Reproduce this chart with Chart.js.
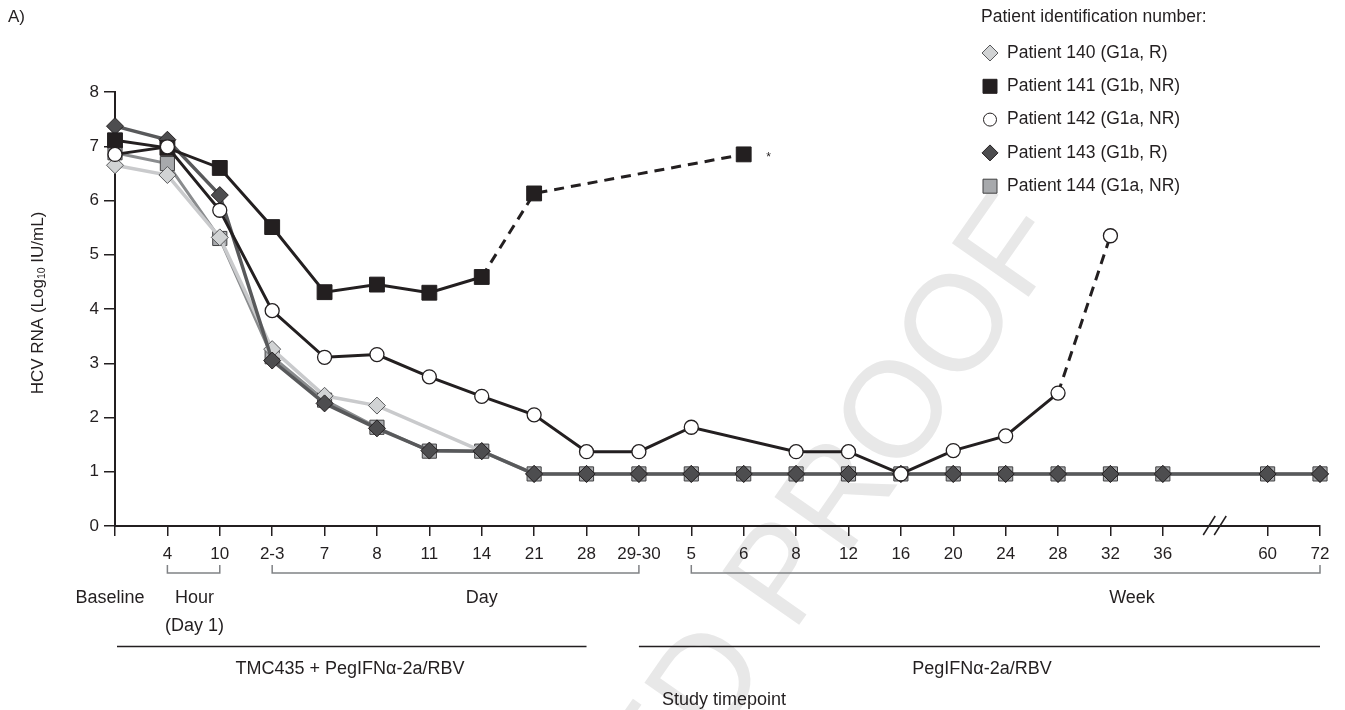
<!DOCTYPE html>
<html>
<head>
<meta charset="utf-8">
<script src="https://cdn.jsdelivr.net/npm/chart.js@4.4.1/dist/chart.umd.min.js"></script>
<style>
  body { margin: 0; background: #fff; }
  #wrap { width: 1345px; height: 710px; }
</style>
</head>
<body>
<div id="wrap"><canvas id="chart" width="1345" height="710"></canvas></div>
<script>
// x categories (index 21 is the axis break, no tick label)
const timepoints = ['', '4', '10', '2-3', '7', '8', '11', '14', '21', '28', '29-30',
                    '5', '6', '8', '12', '16', '20', '24', '28', '32', '36', '', '60', '72'];
const yTicks = [0, 1, 2, 3, 4, 5, 6, 7, 8];

// HCV RNA, log10 IU/mL
const patient140 = [6.65, 6.47, 5.32, 3.26, 2.40, 2.22, null, 1.38, 0.96, 0.96, 0.96,
                    0.96, 0.96, 0.96, 0.96, 0.96, 0.96, 0.96, 0.96, 0.96, 0.96, null, 0.96, 0.96];
const patient141 = [7.11, 6.97, 6.60, 5.51, 4.31, 4.45, 4.30, 4.59, 6.13, null, null,
                    null, 6.85, null, null, null, null, null, null, null, null, null, null, null];
const patient142 = [6.85, 6.99, 5.82, 3.97, 3.11, 3.16, 2.75, 2.39, 2.05, 1.37, 1.37,
                    1.82, null, 1.37, 1.37, 0.96, 1.39, 1.66, 2.45, 5.35, null, null, null, null];
const patient143 = [7.37, 7.12, 6.10, 3.05, 2.26, 1.80, 1.39, 1.38, 0.96, 0.96, 0.96,
                    0.96, 0.96, 0.96, 0.96, 0.96, 0.96, 0.96, 0.96, 0.96, 0.96, null, 0.96, 0.96];
const patient144 = [6.88, 6.68, 5.30, 3.12, 2.32, 1.82, 1.38, 1.38, 0.96, 0.96, 0.96,
                    0.96, 0.96, 0.96, 0.96, 0.96, 0.96, 0.96, 0.96, 0.96, 0.96, null, 0.96, 0.96];

const legendItems = [
  { text: 'Patient 140 (G1a, R)', style: 'rectRot', fill: '#d1d3d4', stroke: '#58595b' },
  { text: 'Patient 141 (G1b, NR)', style: 'rect', fill: '#231f20', stroke: '#231f20' },
  { text: 'Patient 142 (G1a, NR)', style: 'circle', fill: '#ffffff', stroke: '#231f20' },
  { text: 'Patient 143 (G1b, R)', style: 'rectRot', fill: '#4d4d4f', stroke: '#231f20' },
  { text: 'Patient 144 (G1a, NR)', style: 'rect', fill: '#a7a9ac', stroke: '#414042' }
];

const INK = '#231f20';
const FONT = '"Liberation Sans", Arial, Helvetica, sans-serif';

function marker(ctx, style, x, y, fill, stroke) {
  ctx.save();
  ctx.fillStyle = fill;
  ctx.strokeStyle = stroke;
  ctx.lineWidth = 1;
  ctx.beginPath();
  if (style === 'rect') {
    ctx.rect(x - 7, y - 7, 14, 14);
  } else if (style === 'rectRot') {
    ctx.moveTo(x, y - 8); ctx.lineTo(x + 8, y); ctx.lineTo(x, y + 8); ctx.lineTo(x - 8, y); ctx.closePath();
  } else {
    ctx.arc(x, y, 6.5, 0, Math.PI * 2);
  }
  ctx.fill();
  ctx.stroke();
  ctx.restore();
}

const overlay = {
  id: 'overlay',
  beforeDraw(chart) {
    // faint proof watermark behind everything
    const ctx = chart.ctx;
    ctx.save();
    ctx.fillStyle = '#e8e8e8';
    ctx.font = '136px ' + FONT;
    ctx.textAlign = 'right';
    ctx.textBaseline = 'alphabetic';
    ctx.translate(1070, 238);
    ctx.rotate(-55 * Math.PI / 180);
    ctx.fillText('UNCORRECTED PROOF', 0, 0);
    ctx.restore();
  },
  afterDraw(chart) {
    const ctx = chart.ctx;
    const x = chart.scales.x;
    const px = i => x.getPixelForValue(i);
    ctx.save();
    ctx.fillStyle = INK;
    ctx.font = '17px ' + FONT;
    ctx.textBaseline = 'middle';
    ctx.textAlign = 'left';
    ctx.fillText('A)', 8, 17);

    // axis break marks
    ctx.strokeStyle = INK;
    ctx.lineWidth = 1.5;
    const bx = px(21);
    [-6, 5].forEach(d => {
      ctx.beginPath();
      ctx.moveTo(bx + d - 6, 535);
      ctx.lineTo(bx + d + 6, 516);
      ctx.stroke();
    });

    // brackets
    ctx.strokeStyle = '#808285';
    ctx.lineWidth = 1.5;
    const bracket = (a, b) => {
      ctx.beginPath();
      ctx.moveTo(px(a), 565);
      ctx.lineTo(px(a), 573);
      ctx.lineTo(px(b), 573);
      ctx.lineTo(px(b), 565);
      ctx.stroke();
    };
    bracket(1, 2);
    bracket(3, 10);
    bracket(11, 23);

    // treatment phase lines
    ctx.strokeStyle = INK;
    ctx.lineWidth = 1.3;
    ctx.beginPath();
    ctx.moveTo(px(0) + 2, 646.5); ctx.lineTo(px(9), 646.5);
    ctx.moveTo(px(10), 646.5); ctx.lineTo(px(23), 646.5);
    ctx.stroke();

    ctx.font = '18px ' + FONT;
    ctx.textAlign = 'center';
    ctx.fillText('Baseline', 110, 598);
    ctx.fillText('Hour', (px(1) + px(2)) / 2 + 1, 598);
    ctx.fillText('(Day 1)', (px(1) + px(2)) / 2 + 1, 626);
    ctx.fillText('Day', px(7), 598);
    ctx.fillText('Week', 1132, 598);
    ctx.fillText('TMC435 + PegIFN\u03b1-2a/RBV', 350, 669);
    ctx.fillText('PegIFN\u03b1-2a/RBV', 982, 669);
    ctx.fillText('Study timepoint', 724, 700);

    // star next to patient 141 last point
    const y = chart.scales.y;
    ctx.font = '12px ' + FONT;
    ctx.fillText('*', px(12) + 25, y.getPixelForValue(patient141[12]) + 3);

    // y-axis title with subscript
    ctx.save();
    ctx.translate(38, 303);
    ctx.rotate(-Math.PI / 2);
    const big = '17px ' + FONT, small = '10.5px ' + FONT;
    const parts = [['HCV RNA (Log', big, 0], ['10', small, 4], [' IU/mL)', big, 0]];
    let total = 0;
    parts.forEach(p => { ctx.font = p[1]; total += ctx.measureText(p[0]).width; });
    let cx = -total / 2;
    ctx.textAlign = 'left';
    parts.forEach(p => {
      ctx.font = p[1];
      ctx.fillText(p[0], cx, p[2]);
      cx += ctx.measureText(p[0]).width;
    });
    ctx.restore();

    // legend
    ctx.font = '17.5px ' + FONT;
    ctx.textAlign = 'left';
    ctx.fillText('Patient identification number:', 981, 17);
    legendItems.forEach((it, i) => {
      const ly = 53 + i * 33.3;
      marker(ctx, it.style, 990, ly, it.fill, it.stroke);
      ctx.fillStyle = INK;
      ctx.fillText(it.text, 1007, ly);
    });
    ctx.restore();
  }
};

const dash141 = c => c.p0DataIndex >= 7 ? [10, 7] : undefined;
const dash142 = c => c.p0DataIndex >= 18 ? [10, 7] : undefined;

new Chart(document.getElementById('chart').getContext('2d'), {
  type: 'line',
  data: {
    labels: timepoints,
    datasets: [
      { label: 'Patient 142', data: patient142, borderColor: INK, borderWidth: 3,
        pointStyle: 'circle', pointRadius: 7, pointBackgroundColor: '#fff', pointBorderColor: INK,
        pointBorderWidth: 1.3, segment: { borderDash: dash142 } },
      { label: 'Patient 141', data: patient141, borderColor: INK, borderWidth: 3,
        pointStyle: 'rect', pointRadius: 10.5, pointBackgroundColor: INK, pointBorderColor: INK,
        pointBorderWidth: 1, segment: { borderDash: dash141 } },
      { label: 'Patient 143', data: patient143, borderColor: '#58595b', borderWidth: 3.5,
        pointStyle: 'rectRot', pointRadius: 8.5, pointBackgroundColor: '#4d4d4f', pointBorderColor: INK,
        pointBorderWidth: 1 },
      { label: 'Patient 140', data: patient140, borderColor: '#c9cacc', borderWidth: 3.5,
        pointStyle: 'rectRot', pointRadius: 8.5, pointBackgroundColor: '#d1d3d4', pointBorderColor: '#58595b',
        pointBorderWidth: 1 },
      { label: 'Patient 144', data: patient144, borderColor: '#8a8c8e', borderWidth: 3,
        pointStyle: 'rect', pointRadius: 10, pointBackgroundColor: '#a7a9ac', pointBorderColor: '#414042',
        pointBorderWidth: 1 }
    ].map(d => Object.assign(d, { spanGaps: true, tension: 0, clip: false, fill: false }))
  },
  options: {
    responsive: false,
    animation: false,
    layout: { padding: { top: 92, right: 25, left: 0, bottom: 0 } },
    plugins: { legend: { display: false }, tooltip: { enabled: false } },
    scales: {
      x: {
        type: 'category',
        offset: false,
        afterFit: s => { s.height = 184; },
        grid: {
          drawOnChartArea: false, drawTicks: true, tickLength: 10, lineWidth: 1.5,
          color: c => c.index === 21 ? 'rgba(0,0,0,0)' : INK
        },
        border: { color: INK, width: 2 },
        ticks: { autoSkip: false, maxRotation: 0, color: INK, padding: 8, font: { family: FONT, size: 17 } }
      },
      y: {
        min: yTicks[0],
        max: yTicks[yTicks.length - 1],
        afterFit: s => { s.width = 115; },
        afterBuildTicks: s => { s.ticks = yTicks.map(v => ({ value: v })); },
        grid: { drawOnChartArea: false, drawTicks: true, tickLength: 11, lineWidth: 1.5, color: INK },
        border: { color: INK, width: 2 },
        ticks: { color: INK, padding: 5, font: { family: FONT, size: 17 } }
      }
    }
  },
  plugins: [overlay]
});
</script>
</body>
</html>
